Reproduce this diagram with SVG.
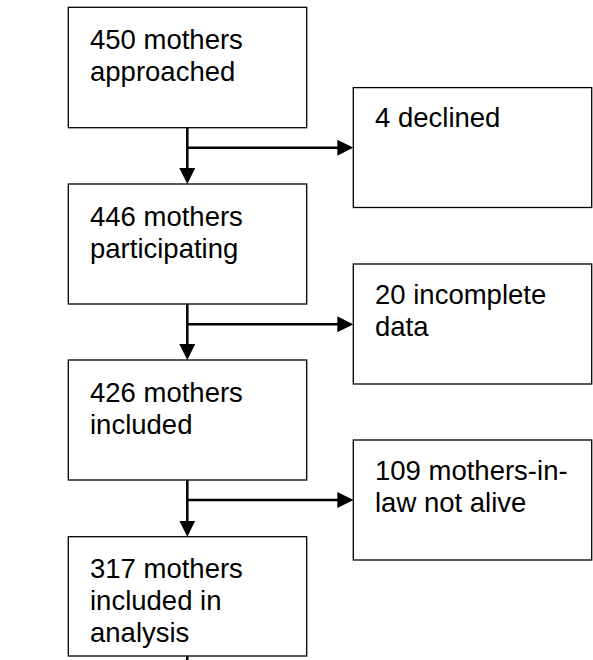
<svg xmlns="http://www.w3.org/2000/svg" width="593" height="660" viewBox="0 0 593 660">
  <style>
    .box { fill: #ffffff; stroke: #000000; stroke-width: 1.3; }
    .lbl { font-family: "Liberation Sans", Arial, sans-serif; font-size: 27.5px; fill: #000000; }
    .conn { stroke: #000000; stroke-width: 2.5; fill: none; }
    .arr { marker-end: url(#ah); }
  </style>
  <defs>
    <marker id="ah" markerUnits="userSpaceOnUse" markerWidth="16" markerHeight="16" viewBox="0 0 16 16" refX="2" refY="8" orient="auto">
      <path d="M0,0 L16,8 L0,16 z" fill="#000000"/>
    </marker>
  </defs>
  <rect width="593" height="660" fill="#ffffff"/>

  <g id="connectors">
    <line class="conn arr" x1="187.3" y1="127.7" x2="187.3" y2="170"/>
    <line class="conn arr" x1="187.3" y1="147.7" x2="339.3" y2="147.7"/>
    <line class="conn arr" x1="187.3" y1="304" x2="187.3" y2="346"/>
    <line class="conn arr" x1="187.3" y1="324.3" x2="339.3" y2="324.3"/>
    <line class="conn arr" x1="187.3" y1="480" x2="187.3" y2="522.7"/>
    <line class="conn arr" x1="187.3" y1="500" x2="339.3" y2="500"/>
    <line class="conn" x1="187.3" y1="656" x2="187.3" y2="660"/>
  </g>

  <g id="n450">
    <rect class="box" x="68.3" y="7.3" width="238.4" height="120.4"/>
    <text class="lbl" x="90" y="49">450 mothers</text>
    <text class="lbl" x="90" y="81">approached</text>
  </g>
  <g id="n4">
    <rect class="box" x="353.3" y="87.6" width="238.4" height="119.9"/>
    <text class="lbl" x="375" y="127">4 declined</text>
  </g>
  <g id="n446">
    <rect class="box" x="68.3" y="184" width="238.4" height="120"/>
    <text class="lbl" x="90" y="225.5">446 mothers</text>
    <text class="lbl" x="90" y="257.5">participating</text>
  </g>
  <g id="n20">
    <rect class="box" x="353.3" y="264" width="238.4" height="120"/>
    <text class="lbl" x="375" y="304">20 incomplete</text>
    <text class="lbl" x="375" y="336">data</text>
  </g>
  <g id="n426">
    <rect class="box" x="68.3" y="360" width="238.4" height="120"/>
    <text class="lbl" x="90" y="401.5">426 mothers</text>
    <text class="lbl" x="90" y="433.5">included</text>
  </g>
  <g id="n109">
    <rect class="box" x="353.3" y="440" width="238.4" height="120"/>
    <text class="lbl" x="375" y="480">109 mothers-in-</text>
    <text class="lbl" x="375" y="512">law not alive</text>
  </g>
  <g id="n317">
    <rect class="box" x="68.3" y="536.7" width="238.4" height="119.3"/>
    <text class="lbl" x="90" y="578">317 mothers</text>
    <text class="lbl" x="90" y="610">included in</text>
    <text class="lbl" x="90" y="642">analysis</text>
  </g>
</svg>
